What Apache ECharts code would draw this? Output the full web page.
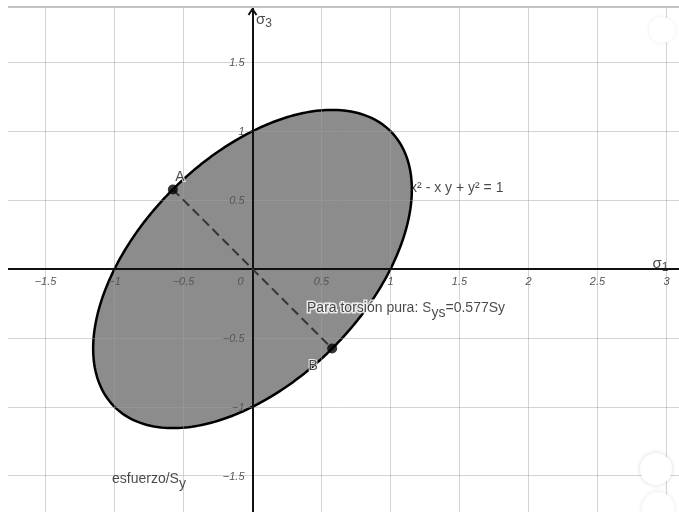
<!DOCTYPE html>
<html>
<head>
<meta charset="utf-8">
<title>Criterio de energía de distorsión</title>
<script src="https://cdn.jsdelivr.net/npm/echarts@6/dist/echarts.min.js"></script>
<style>
  html, body { margin: 0; padding: 0; background: #ffffff; }
  #chart { width: 679px; height: 512px; }
</style>
</head>
<body>
<div id="chart"></div>
<script>
// Conic x² + B·xy + y² = rhs, stored as [A, B, C, rhs]
const conicCoeffs = [1, -1, 1, 1];
// Pure-torsion points on the boundary (σ1 = -σ3 = ±0.577)
const pointNames = ['A', 'B'];
const pointSigma1 = [-0.577, 0.577];
const pointSigma3 = [0.577, -0.577];
// Axis tick spacing, extents and labelled ticks
const tickStep = 0.5;
const xRange = [-2, 3.5];
const yRange = [-2, 2];
const xTickValues = [-1.5, -1, -0.5, 0.5, 1, 1.5, 2, 2.5, 3];
const yTickValues = [-1.5, -1, -0.5, 0.5, 1, 1.5];

const FONT = '"Liberation Sans", Arial, sans-serif';
const TICK_COLOR = '#555';

// Sample the boundary of the conic in polar form: r(θ)² = rhs / (A cos² + B cos sin + C sin²)
function conicBoundary(coeffs, samples) {
  const [a, b, c, rhs] = coeffs;
  const pts = [];
  for (let i = 0; i < samples; i++) {
    const t = (i / samples) * Math.PI * 2;
    const co = Math.cos(t), si = Math.sin(t);
    const r = Math.sqrt(rhs / (a * co * co + b * co * si + c * si * si));
    pts.push([r * co, r * si]);
  }
  return pts;
}
const boundary = conicBoundary(conicCoeffs, 360);

const tickLabel = v => String(v).replace('-', '\u2212');

const chart = echarts.init(document.getElementById('chart'), null, { renderer: 'canvas' });

const textBase = { fontFamily: FONT, color: '#1a1a1a', fontSize: 14 };

function annotation(pos, text, extra) {
  return {
    value: pos,
    label: Object.assign({
      show: true, position: 'inside', align: 'left', verticalAlign: 'middle',
      formatter: text
    }, textBase, extra || {})
  };
}

const tickTextStyle = { fontFamily: FONT, fontSize: 11, fontStyle: 'italic', fill: TICK_COLOR };

const option = {
  animation: false,
  backgroundColor: '#ffffff',
  grid: { left: -23.5, right: -56.5, top: -6.6, bottom: -32.6, containLabel: false, outerBoundsMode: 'none' },
  xAxis: {
    type: 'value', min: xRange[0], max: xRange[1], interval: tickStep, z: 3,
    axisLine: { onZero: true, lineStyle: { color: '#111', width: 2 } },
    axisTick: { show: false },
    axisLabel: { show: false },
    splitLine: { lineStyle: { color: 'rgba(160,160,160,0.45)', width: 1 } }
  },
  yAxis: {
    type: 'value', min: yRange[0], max: yRange[1], interval: tickStep, z: 3,
    axisLine: { onZero: true, lineStyle: { color: '#111', width: 2 } },
    axisTick: { show: false },
    axisLabel: { show: false },
    splitLine: { lineStyle: { color: 'rgba(160,160,160,0.45)', width: 1 } }
  },
  series: [
    {
      // filled elliptical region x² - xy + y² ≤ 1
      type: 'custom', z: 2, silent: true,
      data: [[0, 0]],
      renderItem: function (params, api) {
        return {
          type: 'polygon',
          shape: { points: boundary.map(p => api.coord(p)) },
          style: { fill: '#8c8c8c', stroke: '#000', lineWidth: 2.5 }
        };
      }
    },
    {
      // σ1 tick labels, centred below the horizontal axis
      type: 'custom', z: 4, silent: true,
      data: xTickValues.map(v => [v, 0]),
      renderItem: function (params, api) {
        const p = api.coord([api.value(0), api.value(1)]);
        return {
          type: 'text',
          style: Object.assign({ x: p[0], y: p[1] + 13, text: tickLabel(api.value(0)), align: 'center', verticalAlign: 'middle' }, tickTextStyle)
        };
      }
    },
    {
      // σ3 tick labels, right-aligned left of the vertical axis
      type: 'custom', z: 4, silent: true,
      data: yTickValues.map(v => [0, v]),
      renderItem: function (params, api) {
        const p = api.coord([api.value(0), api.value(1)]);
        return {
          type: 'text',
          style: Object.assign({ x: p[0] - 8, y: p[1] + 1, text: tickLabel(api.value(1)), align: 'right', verticalAlign: 'middle' }, tickTextStyle)
        };
      }
    },
    {
      // origin label
      type: 'custom', z: 4, silent: true,
      data: [[0, 0]],
      renderItem: function (params, api) {
        const p = api.coord([api.value(0), api.value(1)]);
        return {
          type: 'text',
          style: Object.assign({ x: p[0] - 12, y: p[1] + 13, text: '0', align: 'center', verticalAlign: 'middle' }, tickTextStyle)
        };
      }
    },
    {
      // arrowhead at the top of the σ3 axis
      type: 'custom', z: 4, silent: true,
      data: [[0, 1.887]],
      renderItem: function (params, api) {
        const tip = api.coord([api.value(0), api.value(1)]);
        return {
          type: 'polyline',
          shape: { points: [[tip[0] - 4, tip[1] + 6], tip, [tip[0] + 4, tip[1] + 6]] },
          style: { stroke: '#111', lineWidth: 2, fill: null }
        };
      }
    },
    {
      // segment A–B
      type: 'line', z: 4, silent: true, symbol: 'none',
      data: pointNames.map((_, i) => [pointSigma1[i], pointSigma3[i]]),
      lineStyle: { color: '#333', width: 2, type: [9, 5] }
    },
    {
      type: 'scatter', z: 5, silent: true, symbolSize: 10,
      itemStyle: { color: '#000' },
      data: pointNames.map((n, i) => ({
        value: [pointSigma1[i], pointSigma3[i]],
        label: {
          show: true, formatter: n, position: 'inside',
          offset: i === 0 ? [7, -12] : [-19, 18],
          fontFamily: FONT, fontSize: 14, color: '#1a1a1a',
          textBorderColor: '#fff', textBorderWidth: 2
        }
      }))
    },
    {
      // text annotations
      type: 'scatter', z: 6, silent: true, symbolSize: 1,
      itemStyle: { color: 'rgba(0,0,0,0)' },
      data: [
        annotation([1.142, 0.588], 'x² - x y + y² = 1'),
        annotation([0.395, -0.283], 'Para torsión pura: S{sub|ys}=0.577Sy', {
          textBorderColor: '#fff', textBorderWidth: 3,
          rich: { sub: { fontFamily: FONT, fontSize: 14, color: '#1a1a1a', padding: [10, 0, 0, 0], textBorderColor: '#fff', textBorderWidth: 3 } }
        }),
        annotation([-1.018, -1.524], 'esfuerzo/S{sub|y}', {
          rich: { sub: { fontFamily: FONT, fontSize: 14, color: '#1a1a1a', padding: [10, 0, 0, 0] } }
        }),
        annotation([0.025, 1.81], '\u03c3{sub|3}', {
          fontSize: 15,
          rich: { sub: { fontFamily: FONT, fontSize: 12, color: '#1a1a1a', padding: [8, 0, 0, 0] } }
        }),
        annotation([2.899, 0.038], '\u03c3{sub|1}', {
          fontSize: 15,
          rich: { sub: { fontFamily: FONT, fontSize: 12, color: '#1a1a1a', padding: [8, 0, 0, 0] } }
        })
      ]
    }
  ],
  graphic: [
    // view frame: blank margin on the left and top, thin border along the top
    { type: 'rect', z: 100, shape: { x: 0, y: 0, width: 8, height: 512 }, style: { fill: '#fff' } },
    { type: 'rect', z: 100, shape: { x: 0, y: 0, width: 679, height: 7 }, style: { fill: '#fff' } },
    { type: 'line', z: 101, shape: { x1: 8, y1: 7, x2: 679, y2: 7 }, style: { stroke: '#c4c4c4', lineWidth: 2 } },
    // toolbar buttons
    { type: 'circle', z: 102, shape: { cx: 662, cy: 30, r: 13 }, style: { fill: '#fff', shadowBlur: 4, shadowColor: 'rgba(0,0,0,0.08)' } },
    { type: 'circle', z: 102, shape: { cx: 656, cy: 469, r: 16 }, style: { fill: '#fff', shadowBlur: 5, shadowColor: 'rgba(0,0,0,0.15)' } },
    { type: 'circle', z: 102, shape: { cx: 658, cy: 508, r: 16 }, style: { fill: '#fff', shadowBlur: 5, shadowColor: 'rgba(0,0,0,0.1)' } }
  ]
};

chart.setOption(option);
</script>
</body>
</html>
